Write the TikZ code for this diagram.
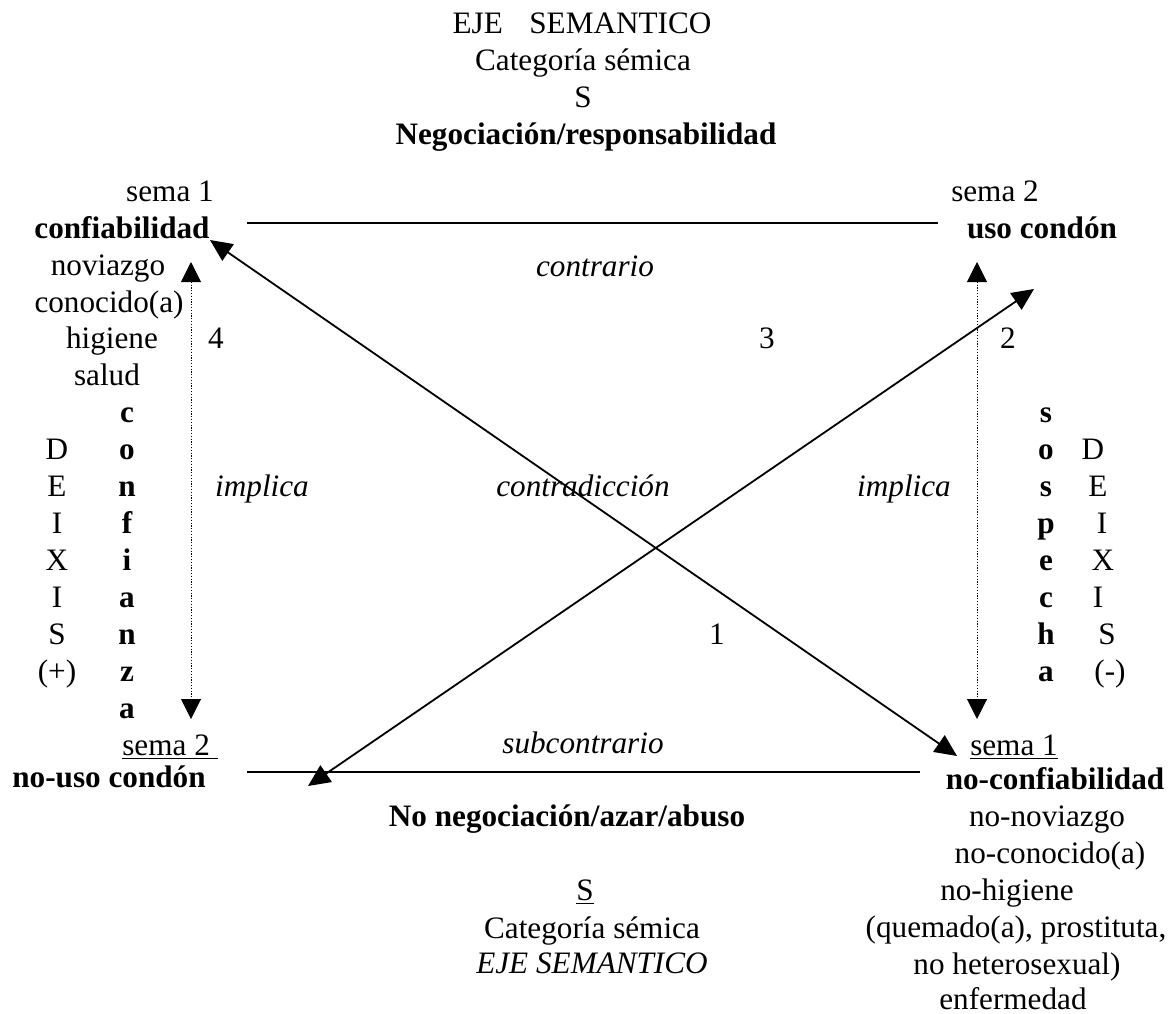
\documentclass[tikz,border=0pt]{standalone}
\usepackage{fontspec}
\setmainfont{Liberation Serif}
\usetikzlibrary{arrows.meta}
\begin{document}
\begin{tikzpicture}[x=0.5pt,y=-0.5pt,
  lbl/.style={anchor=base,inner sep=0pt,font=\fontsize{15.6pt}{18.5pt}\selectfont},
  lblb/.style={lbl,font=\fontsize{15.6pt}{18.5pt}\selectfont\bfseries},
  lbli/.style={lbl,font=\fontsize{15.6pt}{18.5pt}\selectfont\itshape},
  axisline/.style={line width=1pt},
  diagline/.style={line width=0.9pt,{Triangle[length=11pt,width=10pt]}-{Triangle[length=11pt,width=10pt]}},
  impline/.style={line width=0.5pt,dash pattern=on 0.6pt off 0.8pt,{Triangle[length=10pt,width=10pt]}-{Triangle[length=10pt,width=10pt]}}]
\useasboundingbox[fill=white] (0,0) rectangle (1173,1013);

% upper semantic axis
\node[lbl]  (ejeT)  at (582,33) {EJE\hspace{0.85em}SEMANTICO};
\node[lbl]  (catT)  at (583,70) {Categoría sémica};
\node[lbl]  (sT)    at (583,107) {S};
\node[lblb] (negT)  at (586,144) {Negociación/responsabilidad};

% upper left corner
\node[lbl]  (s1L)   at (170,201) {sema 1};
\node[lblb] (conf)  at (122,238) {confiabilidad};
\node[lbl]  (nov)   at (108,275) {noviazgo};
\node[lbl]  (cono)  at (109,312) {conocido(a)};
\node[lbl]  (hig)   at (112,348) {higiene};
\node[lbl]  (sal)   at (107,385) {salud};

% upper right corner
\node[lbl]  (s2R)   at (995,201) {sema 2};
\node[lblb] (uso)   at (1042,238) {uso condón};

% numbers and relation names
\node[lbl]  (n4)    at (216,348) {4};
\node[lbl]  (n3)    at (767,348) {3};
\node[lbl]  (n2)    at (1008,348) {2};
\node[lbl]  (n1)    at (717,644) {1};
\node[lbli] (contr) at (595,276) {contrario};
\node[lbli] (impL)  at (262,496) {implica};
\node[lbli] (cdic)  at (583,496) {contradicción};
\node[lbli] (impR)  at (904,496) {implica};
\node[lbli] (sub)   at (583,753) {subcontrario};

% left deixis
\foreach \ch [count=\i from 0] in {c,o,n,f,i,a,n,z,a}
  \node[lblb] (lw\i) at (127,422+37*\i) {\ch};
\foreach \ch [count=\i from 1] in {D,E,I,X,I,S,(+)}
  \node[lbl] (ld\i) at (57,422+37*\i) {\ch};

% right deixis
\foreach \ch [count=\i from 0] in {s,o,s,p,e,c,h,a}
  \node[lblb] (rw\i) at (1046,422+37*\i) {\ch};
\foreach \ch/\xx [count=\i from 1] in {D/1093,E/1098,I/1102,X/1103,I/1098,S/1107,(-)/1110}
  \node[lbl] (rd\i) at (\xx,422+37*\i) {\ch};

% lower left corner
\node[lbl]  (s2L)   at (170,755) {\underline{sema 2\ }};
\node[lblb] (nouso) at (109,787) {no-uso condón};

% lower right corner
\node[lbl]  (s1R)   at (1014,755) {\underline{sema 1}};
\node[lblb] (nconf) at (1055,789) {no-confiabilidad};
\node[lbl]  (nnov)  at (1047,826) {no-noviazgo};
\node[lbl]  (ncon)  at (1050,863) {no-conocido(a)};
\node[lbl]  (nhig)  at (1007,900) {no-higiene};
\node[lbl]  (quem)  at (1016,937) {(quemado(a), prostituta,};
\node[lbl]  (nhet)  at (1017,974) {no heterosexual)};
\node[lbl]  (enf)   at (1013,1009) {enfermedad};

% lower semantic axis
\node[lblb] (negB)  at (567,826) {No negociación/azar/abuso};
\node[lbl]  (sB)    at (585,900) {\underline{S}};
\node[lbl]  (catB)  at (592,938) {Categoría sémica};
\node[lbli] (ejeB)  at (592,973) {EJE SEMANTICO};

% end points of the relations
\coordinate (topA) at (247,223);
\coordinate (topB) at (938,223);
\coordinate (botA) at (247,772);
\coordinate (botB) at (920,772);
\coordinate (crA1) at (210,240);
\coordinate (crA2) at (957,756);
\coordinate (crB1) at (308,786);
\coordinate (crB2) at (1034,289);
\coordinate (imL1) at (191,262);
\coordinate (imL2) at (191,719);
\coordinate (imR1) at (977,262);
\coordinate (imR2) at (977,719);

% contrary and subcontrary
\draw[axisline] (topA) -- (topB);
\draw[axisline] (botA) -- (botB);
% contradictions
\draw[diagline] (crA1) -- (crA2);
\draw[diagline] (crB1) -- (crB2);
% implications
\draw[impline] (imL1) -- (imL2);
\draw[impline] (imR1) -- (imR2);
\end{tikzpicture}
\end{document}
